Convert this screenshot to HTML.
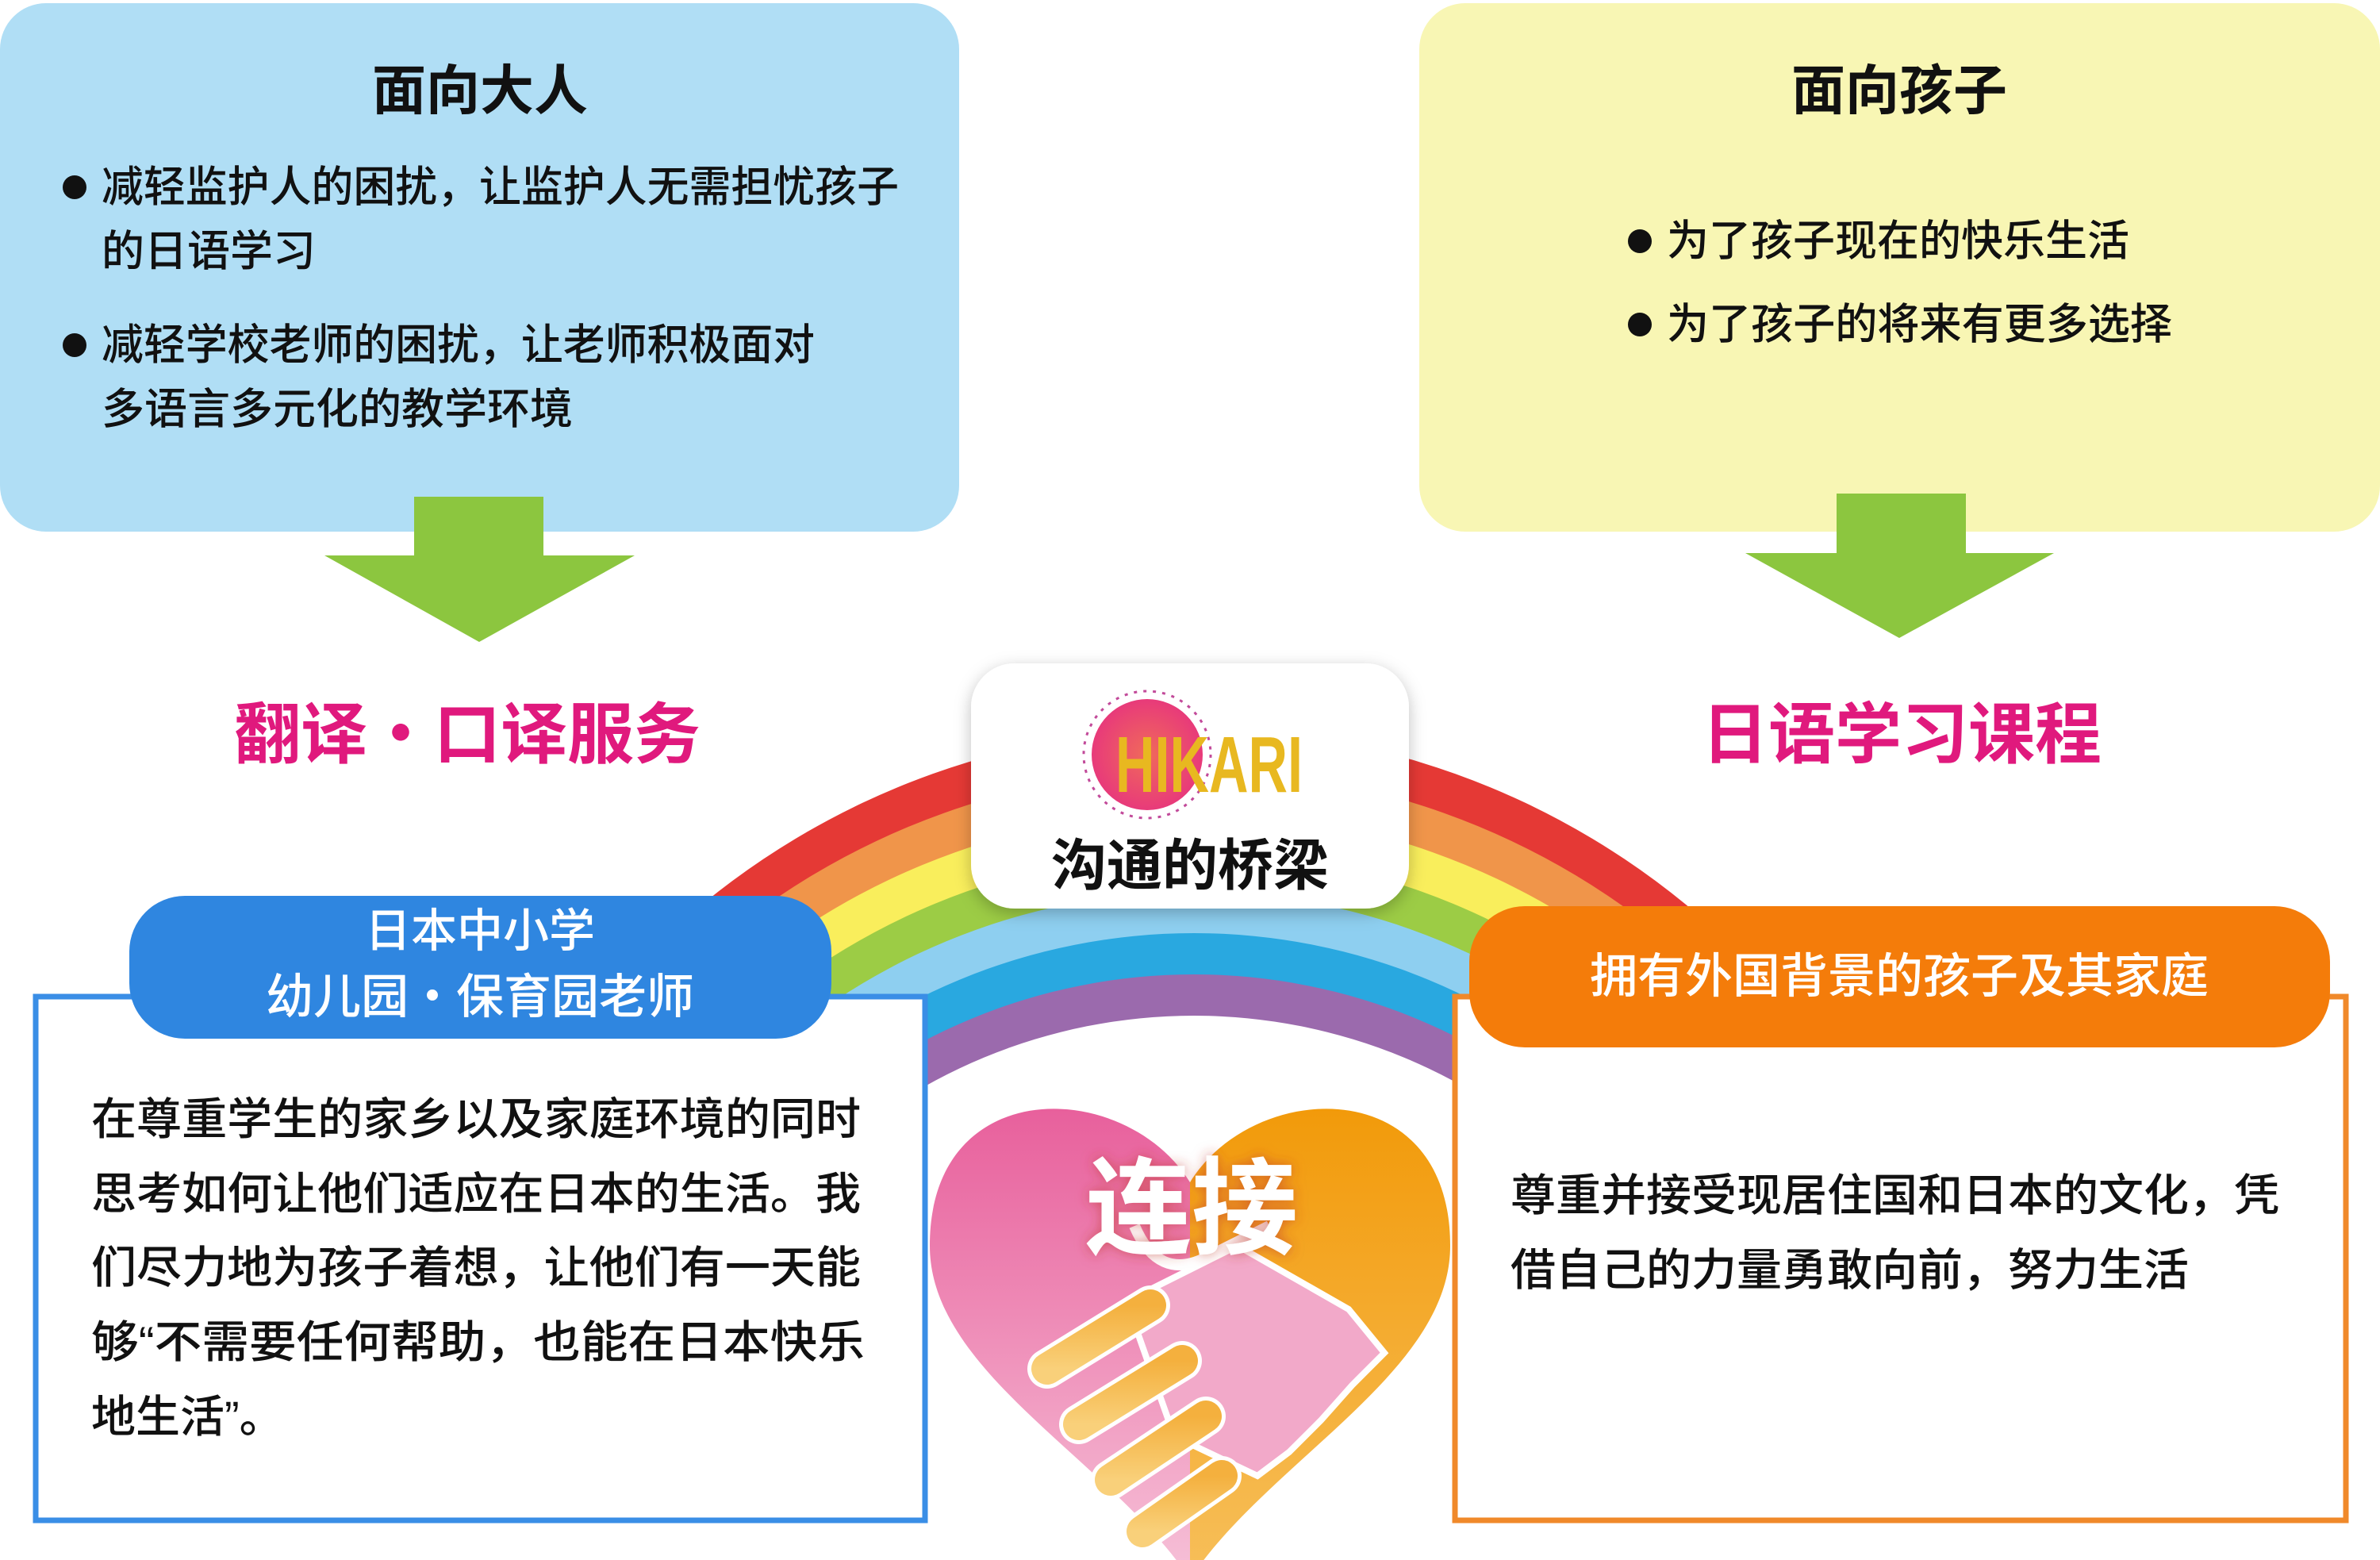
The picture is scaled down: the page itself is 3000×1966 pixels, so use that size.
<!DOCTYPE html>
<html><head><meta charset="utf-8"><style>
html,body{margin:0;padding:0;background:#fff;width:3000px;height:1966px;overflow:hidden}
svg{display:block}
svg text{font-family:"Liberation Sans","Noto Sans CJK SC",sans-serif}
</style></head><body>
<svg width="3000" height="1966" viewBox="0 0 3000 1966" xmlns="http://www.w3.org/2000/svg">
<defs>
<filter id="sh" x="-10%" y="-10%" width="120%" height="130%"><feDropShadow dx="0" dy="6" stdDeviation="10" flood-color="#000" flood-opacity="0.25"/></filter>
<filter id="tsh" x="-20%" y="-20%" width="140%" height="140%"><feDropShadow dx="0" dy="0" stdDeviation="8" flood-color="#c0392b" flood-opacity="0.6"/></filter>
<linearGradient id="pk" x1="0" y1="0" x2="0" y2="1"><stop offset="0" stop-color="#e8609c"/><stop offset="1" stop-color="#f6c1d8"/></linearGradient>
<linearGradient id="or" x1="0" y1="0" x2="0" y2="1"><stop offset="0" stop-color="#f29a0a"/><stop offset="1" stop-color="#f7bf5a"/></linearGradient>
<linearGradient id="fg" x1="0" y1="0" x2="0" y2="1"><stop offset="0" stop-color="#f4b03e"/><stop offset="1" stop-color="#f9d07a"/></linearGradient>
<radialGradient id="lg" cx="0.5" cy="0.5" r="0.5"><stop offset="0" stop-color="#f06a5a"/><stop offset="1" stop-color="#e83a7a"/></radialGradient>
<clipPath id="rc"><rect x="0" y="0" width="3000" height="1500"/></clipPath>
<clipPath id="fc"><rect x="0" y="0" width="3000" height="1966"/></clipPath>
</defs>

<!-- top boxes -->
<rect x="0" y="4" width="1209" height="666" rx="58" fill="#b0def5"/>
<rect x="1789" y="4" width="1211" height="666" rx="58" fill="#f8f6b4"/>

<text x="605" y="138" font-size="68" font-weight="700" text-anchor="middle" fill="#111">面向大人</text>
<circle cx="94" cy="236" r="15" fill="#111"/>
<text x="128" y="254" font-size="54" font-weight="500" fill="#111" textLength="1005" lengthAdjust="spacingAndGlyphs">减轻监护人的困扰，让监护人无需担忧孩子</text>
<text x="128" y="335" font-size="54" font-weight="500" fill="#111">的日语学习</text>
<circle cx="94" cy="435" r="15" fill="#111"/>
<text x="128" y="453" font-size="54" font-weight="500" fill="#111" textLength="899" lengthAdjust="spacingAndGlyphs">减轻学校老师的困扰，让老师积极面对</text>
<text x="128" y="534" font-size="54" font-weight="500" fill="#111">多语言多元化的教学环境</text>

<text x="2394" y="138" font-size="68" font-weight="700" text-anchor="middle" fill="#111">面向孩子</text>
<circle cx="2067" cy="304" r="15" fill="#111"/>
<text x="2101" y="322" font-size="54" font-weight="500" fill="#111" textLength="583" lengthAdjust="spacingAndGlyphs">为了孩子现在的快乐生活</text>
<circle cx="2067" cy="409" r="15" fill="#111"/>
<text x="2101" y="427" font-size="54" font-weight="500" fill="#111" textLength="637" lengthAdjust="spacingAndGlyphs">为了孩子的将来有更多选择</text>

<!-- arrows -->
<polygon points="522,626 685,626 685,700 800,700 604,809 409,700 522,700" fill="#8cc63f"/>
<polygon points="2315,622 2478,622 2478,697 2589,697 2394,804 2200,697 2315,697" fill="#8cc63f"/>

<text x="589" y="955" font-size="84" font-weight="700" text-anchor="middle" fill="#e0197d">翻译・口译服务</text>
<text x="2397" y="955" font-size="84" font-weight="700" text-anchor="middle" fill="#e0197d">日语学习课程</text>

<!-- rainbow -->
<g clip-path="url(#rc)">
<circle cx="1505" cy="1895" r="977" fill="#e53935"/>
<circle cx="1505" cy="1906" r="936" fill="#f0954a"/>
<circle cx="1505" cy="1917" r="895" fill="#f9ee5c"/>
<circle cx="1505" cy="1928" r="854" fill="#9ccc45"/>
<circle cx="1505" cy="1938" r="814" fill="#8ecff0"/>
<circle cx="1505" cy="1949" r="773" fill="#29a8e0"/>
<circle cx="1505" cy="1960" r="732" fill="#9b6aad"/>
<circle cx="1505" cy="1971" r="691" fill="#fff"/>
</g>

<g clip-path="url(#fc)">
<!-- heart -->
<path d="M1500,1490 C1420,1360 1172,1350 1172,1570 C1172,1730 1400,1840 1500,1990 Z" fill="url(#pk)"/>
<path d="M1500,1490 C1580,1360 1828,1350 1828,1570 C1828,1730 1600,1840 1500,1990 Z" fill="url(#or)"/>
<path d="M1420,1640 L1560,1570 L1700,1650 L1745,1705 L1705,1745 L1665,1790 L1625,1830 L1585,1860 L1480,1810 Z" fill="#f2a9c9" stroke="#fff" stroke-width="8"/>
<path d="M1430,1545 Q1460,1615 1520,1585 L1600,1545" fill="none" stroke="#fff" stroke-width="14"/>
<g stroke="#fff" stroke-width="50" stroke-linecap="round"><line x1="1320" y1="1725" x2="1450" y2="1645"/><line x1="1360" y1="1795" x2="1490" y2="1715"/><line x1="1400" y1="1865" x2="1520" y2="1785"/><line x1="1440" y1="1930" x2="1540" y2="1860"/></g>
<g stroke="url(#fg)" stroke-width="40" stroke-linecap="round"><line x1="1320" y1="1725" x2="1450" y2="1645"/><line x1="1360" y1="1795" x2="1490" y2="1715"/><line x1="1400" y1="1865" x2="1520" y2="1785"/><line x1="1440" y1="1930" x2="1540" y2="1860"/></g>
</g>
<text x="1502" y="1570" font-size="134" font-weight="700" text-anchor="middle" fill="#fff" filter="url(#tsh)">连接</text>

<!-- center box -->
<rect x="1224" y="836" width="552" height="309" rx="55" fill="#fff" filter="url(#sh)"/>
<circle cx="1446" cy="951" r="80" fill="none" stroke="#c24a9a" stroke-width="3" stroke-dasharray="4 8"/>
<circle cx="1446" cy="951" r="70" fill="url(#lg)"/>
<text x="1406" y="998" font-size="100" font-weight="700" fill="#e8b820" textLength="236" lengthAdjust="spacingAndGlyphs">HIKARI</text>
<text x="1500" y="1115" font-size="70" font-weight="700" text-anchor="middle" fill="#111">沟通的桥梁</text>

<!-- left bottom -->
<rect x="45" y="1256" width="1121" height="660" fill="#fff" stroke="#3a8ee6" stroke-width="7"/>
<rect x="163" y="1129" width="885" height="180" rx="70" fill="#2f86e0"/>
<text x="605" y="1193" font-size="58" font-weight="500" text-anchor="middle" fill="#fff">日本中小学</text>
<text x="605" y="1277" font-size="60" font-weight="500" text-anchor="middle" fill="#fff">幼儿园・保育园老师</text>
<g font-size="56" font-weight="500" fill="#111">
<text x="115" y="1430" textLength="970" lengthAdjust="spacingAndGlyphs">在尊重学生的家乡以及家庭环境的同时</text>
<text x="115" y="1524" textLength="970" lengthAdjust="spacingAndGlyphs">思考如何让他们适应在日本的生活。我</text>
<text x="115" y="1617" textLength="970" lengthAdjust="spacingAndGlyphs">们尽力地为孩子着想，让他们有一天能</text>
<text x="115" y="1711" textLength="975" lengthAdjust="spacingAndGlyphs">够“不需要任何帮助，也能在日本快乐</text>
<text x="115" y="1805">地生活”。</text>
</g>

<!-- right bottom -->
<rect x="1834" y="1256" width="1123" height="660" fill="#fff" stroke="#f0892a" stroke-width="7"/>
<rect x="1852" y="1142" width="1085" height="178" rx="70" fill="#f47c0a"/>
<text x="2394" y="1251" font-size="60" font-weight="500" text-anchor="middle" fill="#fff">拥有外国背景的孩子及其家庭</text>
<g font-size="56" font-weight="500" fill="#111">
<text x="1904" y="1526" textLength="969" lengthAdjust="spacingAndGlyphs">尊重并接受现居住国和日本的文化，凭</text>
<text x="1904" y="1620" textLength="855" lengthAdjust="spacingAndGlyphs">借自己的力量勇敢向前，努力生活</text>
</g>
</svg>
</body></html>
